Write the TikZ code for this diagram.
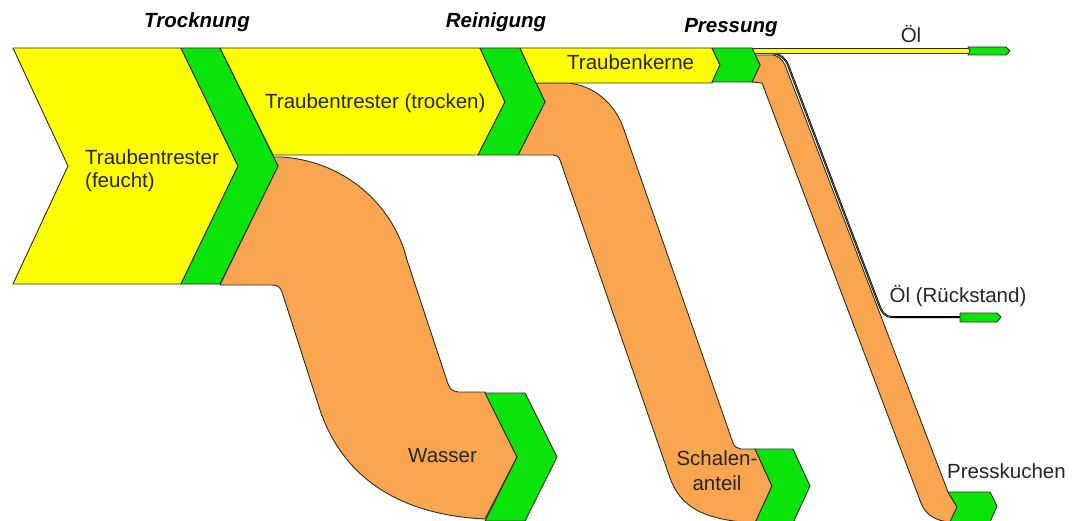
\documentclass[tikz,border=0pt]{standalone}
\usepackage{fontspec}
\setmainfont{Liberation Sans}
\definecolor{yel}{RGB}{255,255,0}
\definecolor{grn}{RGB}{10,228,10}
\definecolor{org}{RGB}{250,165,80}
\definecolor{edge}{RGB}{45,45,35}
\definecolor{oilcore}{RGB}{150,150,90}
\begin{document}
\begin{tikzpicture}[x=1pt,y=-1pt,
  band/.style={draw=edge,line width=0.9pt,line join=round},
  yelbox/.style={band,fill=yel},
  grnbox/.style={band,fill=grn},
  orgbox/.style={band,fill=org},
  lbl/.style={font=\fontsize{20.5}{24}\selectfont,text=black!85,inner sep=0pt},
  head/.style={font=\fontsize{20.5}{24}\selectfont\bfseries\itshape,text=black,inner sep=0pt}]
\useasboundingbox (0,0) rectangle (1078,521);
\fill[white] (0,0) rectangle (1078,521);
\clip (0,0) rectangle (1078,521);

% orange: Wasser
\draw[orgbox] (273,157) -- (282,157) .. controls (350,162) and (395,210) .. (407,260)
  -- (448,384) .. controls (451,390) .. (458,392) -- (485,392) -- (517,457) -- (485,519)
  .. controls (400,515) and (343,478) .. (320,410) -- (282,292)
  .. controls (279,286) .. (272,285) -- (220,285) -- (278,166) -- cycle;
% orange: Schalenanteil
\draw[orgbox] (536,83) -- (567,83) .. controls (595,85) and (615,105) .. (623,127)
  -- (733,443) .. controls (735,447) .. (741,449) -- (755,449) -- (772,486) -- (755,523)
  .. controls (700,520) and (680,505) .. (670,478) -- (560,160)
  .. controls (558,156) .. (553,155) -- (518,155) -- (545,102) -- cycle;
% orange: Presskuchen
\draw[orgbox] (755,55) -- (773,55) .. controls (778,56) and (782,59) .. (785,65)
  -- (948,492) -- (957,507) -- (950,522) .. controls (935,521) and (925,514) .. (921,503)
  -- (762,83) -- (752,82) -- (760,65) -- cycle;

% Oel (Rueckstand) line
\draw[black,line width=2pt,line join=round] (758,53) -- (772,53) .. controls (780,54) and (785,58) .. (788,65)
  -- (878,302) .. controls (882,313) and (885,317) .. (892,317) -- (961,317);
\draw[oilcore,line width=0.4pt,line join=round] (758,53) -- (772,53) .. controls (780,54) and (785,58) .. (788,65)
  -- (878,302) .. controls (882,313) and (885,317) .. (892,317);
\draw[grnbox] (960,313) -- (997,313) -- (1001,317) -- (997,322) -- (960,322) -- cycle;

% Oel line
\draw[yelbox] (750,48.5) rectangle (969,53);
\draw[grnbox] (968,47) -- (1006,47) -- (1010,51) -- (1006,55) -- (968,55) -- (970,51) -- cycle;

% yellow and green chevrons
\draw[yelbox] (13,48) -- (181,48) -- (238,166) -- (181,284) -- (13,284) -- (68,166) -- cycle;
\draw[grnbox] (181,48) -- (220,48) -- (278,166) -- (220,284) -- (181,284) -- (238,166) -- cycle;
\draw[yelbox] (220,48) -- (480,48) -- (505,102) -- (478,155) -- (273,155) -- cycle;
\draw[grnbox] (480,48) -- (520,48) -- (545,102) -- (518,155) -- (478,155) -- (505,102) -- cycle;
\draw[yelbox] (520,48) -- (712,48) -- (720,65) -- (712,83) -- (536,83) -- cycle;
\draw[grnbox] (712,48) -- (752,48) -- (760,65) -- (752,82) -- (712,82) -- (720,65) -- cycle;
\draw[grnbox] (485,393) -- (525,393) -- (557,457) -- (525,521) -- (485,521) -- (517,457) -- cycle;
\draw[grnbox] (755,449) -- (793,449) -- (810,486) -- (793,523) -- (755,523) -- (772,486) -- cycle;
\draw[grnbox] (948,492) -- (990,492) -- (997,506) -- (990,522) -- (950,522) -- (957,507) -- cycle;

% headings
\node[head,anchor=base] (trock) at (197,28) {Trocknung};
\node[head,anchor=base] (rein) at (496,28) {Reinigung};
\node[head,anchor=base] (press) at (731,33) {Pressung};

% labels
\node[lbl,anchor=base] (oel) at (911,43) {Öl};
\node[lbl,anchor=base] (oelr) at (958,302) {Öl (Rückstand)};
\node[lbl,anchor=base west] (trocken) at (265,109) {Traubentrester (trocken)};
\node[lbl,anchor=base west] (feucht1) at (85,165) {Traubentrester};
\node[lbl,anchor=base west] (feucht2) at (85,188) {(feucht)};
\node[lbl,anchor=base west] (kerne) at (567,70) {Traubenkerne};
\node[lbl,anchor=base west] (wasser) at (408,462) {Wasser};
\node[lbl,anchor=base] (schal1) at (717,465) {Schalen-};
\node[lbl,anchor=base] (schal2) at (717,490) {anteil};
\node[lbl,anchor=base west] (kuchen) at (947,478) {Presskuchen};
\end{tikzpicture}
\end{document}
